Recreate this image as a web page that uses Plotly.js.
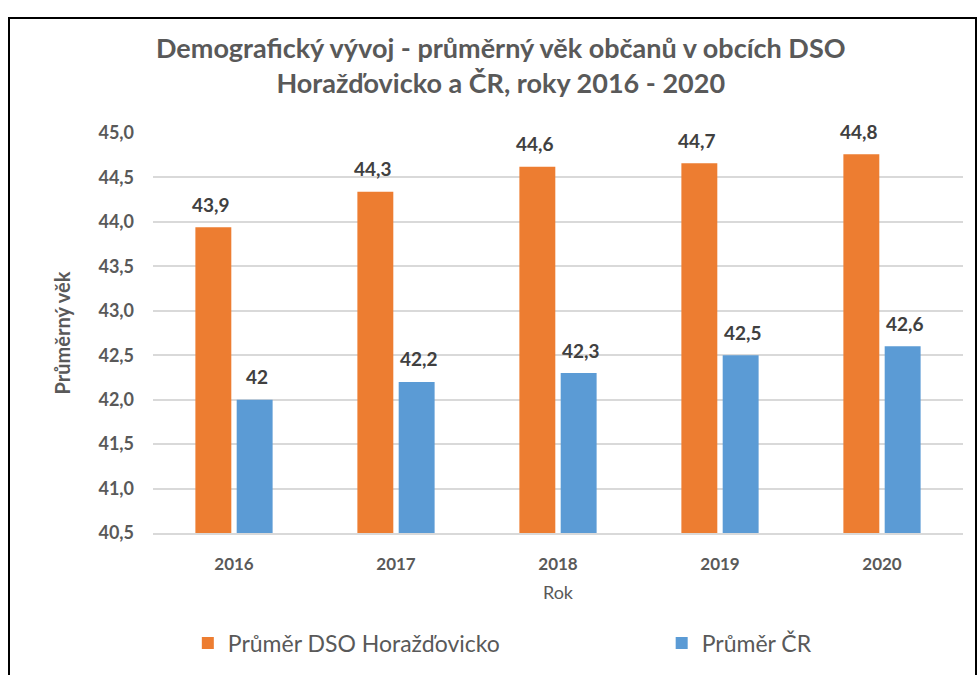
<!DOCTYPE html>
<html>
<head>
<meta charset="utf-8">
<script src="https://cdn.plot.ly/plotly-3.0.1.min.js"></script>
<style>
  body { margin: 0; background: #fff; }
  #graph-container { position: absolute; left: 0; top: 0; width: 980px; height: 675px; }
  #frame { position: absolute; left: 8px; top: 17px; width: 965px; height: 700px;
           border: 2px solid #000; pointer-events: none; }
</style>
</head>
<body>
<div id="graph-container"></div>
<div id="frame"></div>
<script>
var years = ['2016', '2017', '2018', '2019', '2020'];
var dsoValues = [43.94, 44.34, 44.62, 44.66, 44.76];
var crValues = [42.0, 42.2, 42.3, 42.5, 42.6];
var dsoLabels = ['43,9', '44,3', '44,6', '44,7', '44,8'];
var crLabels = ['42', '42,2', '42,3', '42,5', '42,6'];

var fontName = 'Lato, "Open Sans", sans-serif';
var textGrey = '#595959';

function plotChart() {
    var data = [
        {
            x: years,
            y: dsoValues,
            type: 'bar',
            name: 'Průměr DSO Horažďovicko',
            marker: { color: '#ED7D31' },
            legend: 'legend',
            hoverinfo: 'y'
        },
        {
            x: years,
            y: crValues,
            type: 'bar',
            name: 'Průměr ČR',
            marker: { color: '#5B9BD5' },
            legend: 'legend2',
            hoverinfo: 'y'
        }
    ];

    // data labels above the bars (x given as category index)
    var labelFont = { family: fontName, size: 19, color: '#404040', weight: 'bold' };
    var annotations = [];
    for (var i = 0; i < years.length; i++) {
        annotations.push({
            x: i, y: dsoValues[i], text: dsoLabels[i],
            xshift: -23, yshift: 23, showarrow: false, yanchor: 'middle',
            font: labelFont
        });
        annotations.push({
            x: i, y: crValues[i], text: crLabels[i],
            xshift: 23, yshift: 23, showarrow: false, yanchor: 'middle',
            font: labelFont
        });
    }

    var legendFont = { size: 23, color: textGrey };

    var layout = {
        width: 980,
        height: 675,
        margin: { l: 153, r: 17, t: 133, b: 141 },
        paper_bgcolor: '#fff',
        plot_bgcolor: '#fff',
        separators: ', ',
        font: { family: fontName, color: textGrey },
        title: {
            text: 'Demografický vývoj - průměrný věk občanů v obcích DSO<br>Horažďovicko a ČR, roky 2016 - 2020',
            font: { family: fontName, size: 27, color: textGrey, weight: 'bold' },
            x: 0.511, xanchor: 'center',
            y: 0.914, yanchor: 'middle', yref: 'container'
        },
        barmode: 'group',
        bargap: 0.49,
        bargroupgap: 0.13,
        xaxis: {
            type: 'category',
            range: [-0.5, 4.5],
            automargin: false,
            showline: true,
            linecolor: '#D9D9D9',
            linewidth: 1.5,
            ticks: '',
            ticklabelstandoff: 15,
            tickfont: { size: 17, color: textGrey, weight: 'bold' },
            title: { text: 'Rok', font: { size: 18, color: textGrey }, standoff: 13 }
        },
        yaxis: {
            range: [40.5, 45.0],
            automargin: false,
            dtick: 0.5,
            tick0: 40.5,
            tickformat: '.1f',
            gridcolor: '#D9D9D9',
            gridwidth: 1.5,
            zeroline: false,
            ticks: '',
            ticklabelstandoff: 18,
            tickfont: { size: 18, color: textGrey, weight: 'bold' },
            title: { text: 'Průměrný věk', font: { size: 20, color: textGrey, weight: 'bold' }, standoff: 22 }
        },
        showlegend: true,
        legend: {
            orientation: 'h',
            x: 0.043, xanchor: 'left',
            y: -0.272, yanchor: 'middle',
            font: legendFont
        },
        legend2: {
            orientation: 'h',
            x: 0.628, xanchor: 'left',
            y: -0.272, yanchor: 'middle',
            font: legendFont
        },
        annotations: annotations
    };

    Plotly.newPlot('graph-container', data, layout, { displayModeBar: false });
}

plotChart();
</script>
</body>
</html>
